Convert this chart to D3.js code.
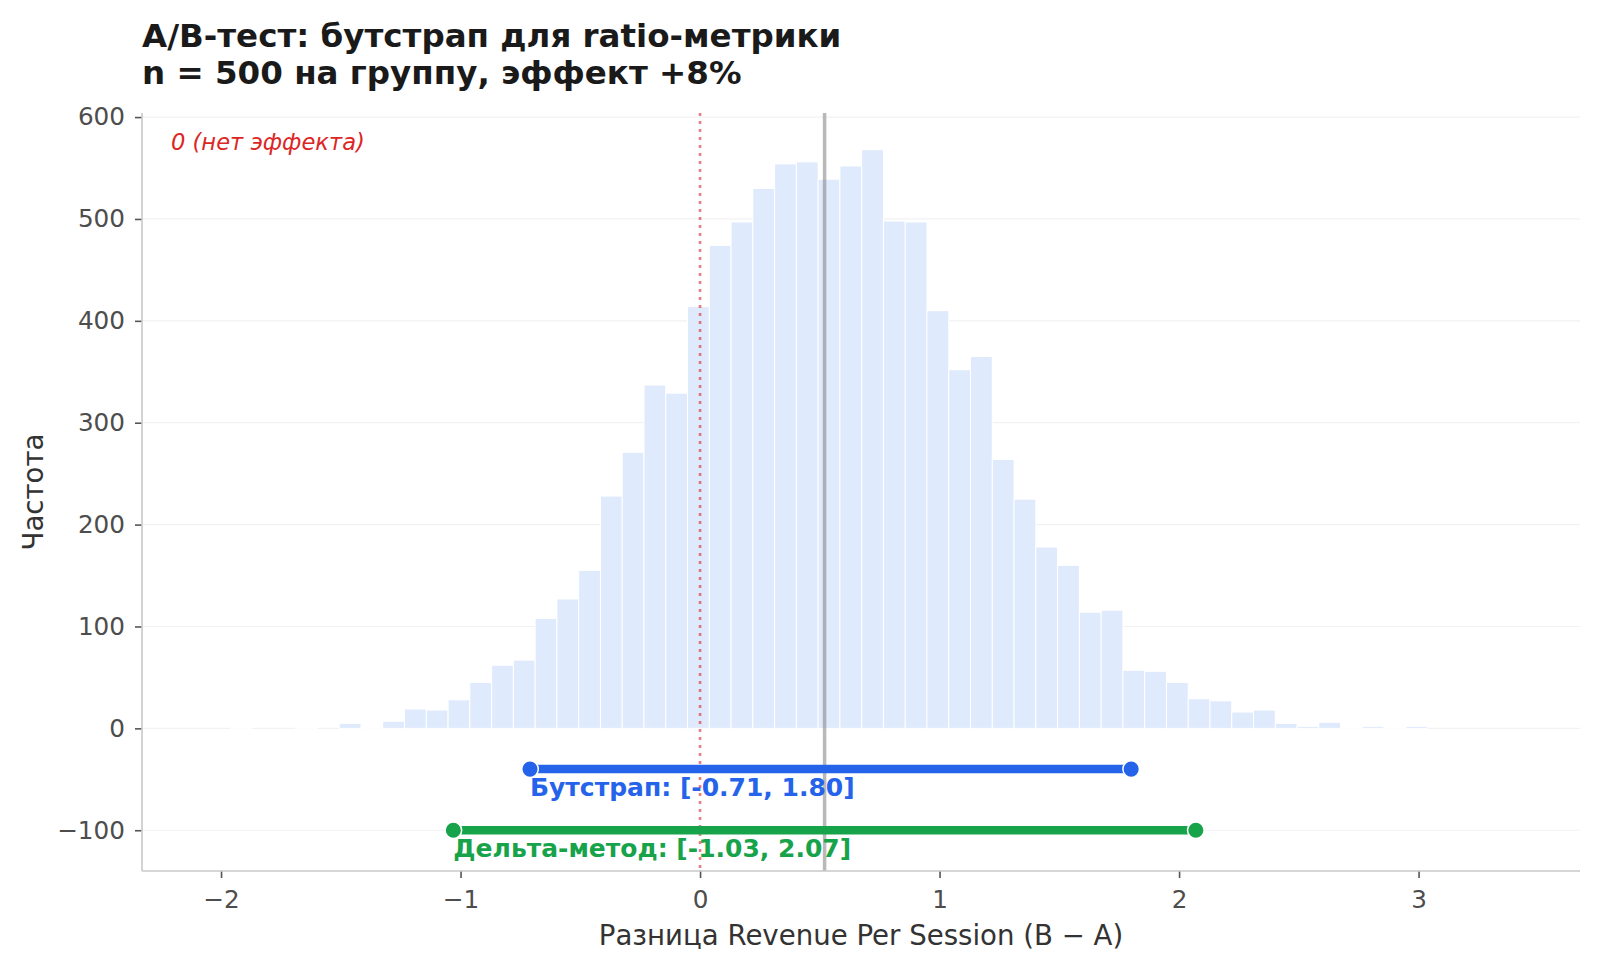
<!DOCTYPE html>
<html lang="ru">
<head>
<meta charset="utf-8">
<title>A/B-тест: бутстрап для ratio-метрики</title>
<script src="https://cdn.jsdelivr.net/npm/d3@7/dist/d3.min.js"></script>
<style>
  body { margin: 0; background: #fff; }
  svg text { font-family: "DejaVu Sans", sans-serif; }
</style>
</head>
<body>
<script>
// bootstrap distribution: 55 bins between histMin and histMax
var histMin = -1.961, histMax = 3.038;
var counts = [1,0,0,1,0,5,1,7,19,18,28,45,62,67,108,127,155,228,271,337,329,414,474,497,530,
              554,556,539,552,568,498,497,410,352,365,264,225,178,160,114,116,57,56,45,29,27,16,18,
              5,2,6,1,2,1,2];

var observedDiff = 0.52;
var ciNames  = ["Бутстрап", "Дельта-метод"];
var ciLow    = [-0.71, -1.03];
var ciHigh   = [1.80, 2.07];
var ciLevel  = [-40, -100];
var ciColors = ["#2563eb", "#16a34a"];

var xTicks = [-2, -1, 0, 1, 2, 3];
var yTicks = [-100, 0, 100, 200, 300, 400, 500, 600];

var W = 1597, H = 968;
var margin = {top: 113, right: 17, bottom: 97, left: 142};
var w = W - margin.left - margin.right;
var h = H - margin.top - margin.bottom;

var x = d3.scaleLinear().domain([-2.33, 3.674]).range([0, w]);
var y = d3.scaleLinear().domain([-140, 604]).range([h, 0]);

var binW = (histMax - histMin) / counts.length;
var bins = counts.map(function(c, i) {
  return {x0: histMin + i * binW, x1: histMin + (i + 1) * binW, n: c};
});

var svg = d3.select("body").append("svg")
    .attr("width", W).attr("height", H);

// title
svg.append("text").attr("x", margin.left).attr("y", 46.5)
   .attr("font-size", 32.5).attr("font-weight", "bold").attr("fill", "#1a1a1a")
   .text("A/B-тест: бутстрап для ratio-метрики");
svg.append("text").attr("x", margin.left).attr("y", 83.5)
   .attr("font-size", 32.5).attr("font-weight", "bold").attr("fill", "#1a1a1a")
   .text("n = 500 на группу, эффект +8%");

var g = svg.append("g").attr("transform", "translate(" + margin.left + "," + margin.top + ")");

// grid
g.append("g").selectAll("line").data(yTicks).enter().append("line")
  .attr("x1", 0).attr("x2", w)
  .attr("y1", function(d) { return y(d); }).attr("y2", function(d) { return y(d); })
  .attr("stroke", "#f2f2f2").attr("stroke-width", 1.2);

// histogram
g.selectAll(".bar").data(bins).enter().append("rect")
  .attr("class", "bar")
  .attr("x", function(d) { return x(d.x0); })
  .attr("width", function(d) { return x(d.x1) - x(d.x0); })
  .attr("y", function(d) { return y(d.n); })
  .attr("height", function(d) { return y(0) - y(d.n); })
  .attr("fill", "#dfeafc")
  .attr("stroke", "#fff").attr("stroke-width", 1);

// zero line
g.append("line")
  .attr("x1", x(0)).attr("x2", x(0)).attr("y1", 0).attr("y2", h)
  .attr("stroke", "#dc2626").attr("stroke-opacity", 0.6)
  .attr("stroke-width", 2.6).attr("stroke-dasharray", "3,5");

// observed difference
g.append("line")
  .attr("x1", x(observedDiff)).attr("x2", x(observedDiff)).attr("y1", 0).attr("y2", h)
  .attr("stroke", "#808080").attr("stroke-opacity", 0.55).attr("stroke-width", 3.5);

g.append("text").attr("x", 29).attr("y", 37)
  .attr("font-size", 22.6).attr("font-style", "italic").attr("fill", "#dc2626")
  .text("0 (нет эффекта)");

// intervals
var ci = ciNames.map(function(n, i) {
  return {name: n, lo: ciLow[i], hi: ciHigh[i], lev: ciLevel[i], color: ciColors[i]};
});

var cig = g.selectAll(".ci").data(ci).enter().append("g").attr("class", "ci");
cig.append("line")
  .attr("x1", function(d) { return x(d.lo); }).attr("x2", function(d) { return x(d.hi); })
  .attr("y1", function(d) { return y(d.lev); }).attr("y2", function(d) { return y(d.lev); })
  .attr("stroke", function(d) { return d.color; }).attr("stroke-width", 8.5);
cig.selectAll("circle").data(function(d) {
    return [{v: d.lo, lev: d.lev, color: d.color}, {v: d.hi, lev: d.lev, color: d.color}];
  }).enter().append("circle")
  .attr("cx", function(d) { return x(d.v); }).attr("cy", function(d) { return y(d.lev); })
  .attr("r", 8.3).attr("fill", function(d) { return d.color; })
  .attr("stroke", "#fff").attr("stroke-width", 1.5);
cig.append("text")
  .attr("x", function(d) { return x(d.lo); })
  .attr("y", function(d) { return y(d.lev) + 27; })
  .attr("font-size", 25).attr("font-weight", "bold")
  .attr("fill", function(d) { return d.color; })
  .text(function(d) { return d.name + ": [" + d.lo.toFixed(2) + ", " + d.hi.toFixed(2) + "]"; });

// axes
var xAxis = d3.axisBottom(x).tickValues(xTicks).tickFormat(d3.format("d")).tickSize(7).tickPadding(12);
var yAxis = d3.axisLeft(y).tickValues(yTicks).tickFormat(d3.format("d")).tickSize(7).tickPadding(10);

var gx = g.append("g").attr("transform", "translate(0," + h + ")").call(xAxis);
var gy = g.append("g").call(yAxis);
[gx, gy].forEach(function(a) {
  a.select(".domain").remove();
  a.selectAll(".tick line").attr("stroke", "#555").attr("stroke-width", 1.6);
  a.selectAll(".tick text").attr("fill", "#4d4d4d").attr("font-size", 24.7)
    .attr("font-family", "DejaVu Sans");
});

// spines
g.append("line").attr("x1", 0).attr("x2", 0).attr("y1", 0).attr("y2", h)
  .attr("stroke", "#c8c8c8").attr("stroke-width", 1.6);
g.append("line").attr("x1", 0).attr("x2", w).attr("y1", h).attr("y2", h)
  .attr("stroke", "#c8c8c8").attr("stroke-width", 1.6);

// axis labels
svg.append("text")
  .attr("x", margin.left + w / 2).attr("y", 945)
  .attr("text-anchor", "middle").attr("font-size", 27.6).attr("fill", "#333")
  .text("Разница Revenue Per Session (B − A)");
svg.append("text")
  .attr("transform", "translate(43," + (margin.top + h / 2) + ") rotate(-90)")
  .attr("text-anchor", "middle").attr("font-size", 27.6).attr("fill", "#333")
  .text("Частота");
</script>
</body>
</html>
